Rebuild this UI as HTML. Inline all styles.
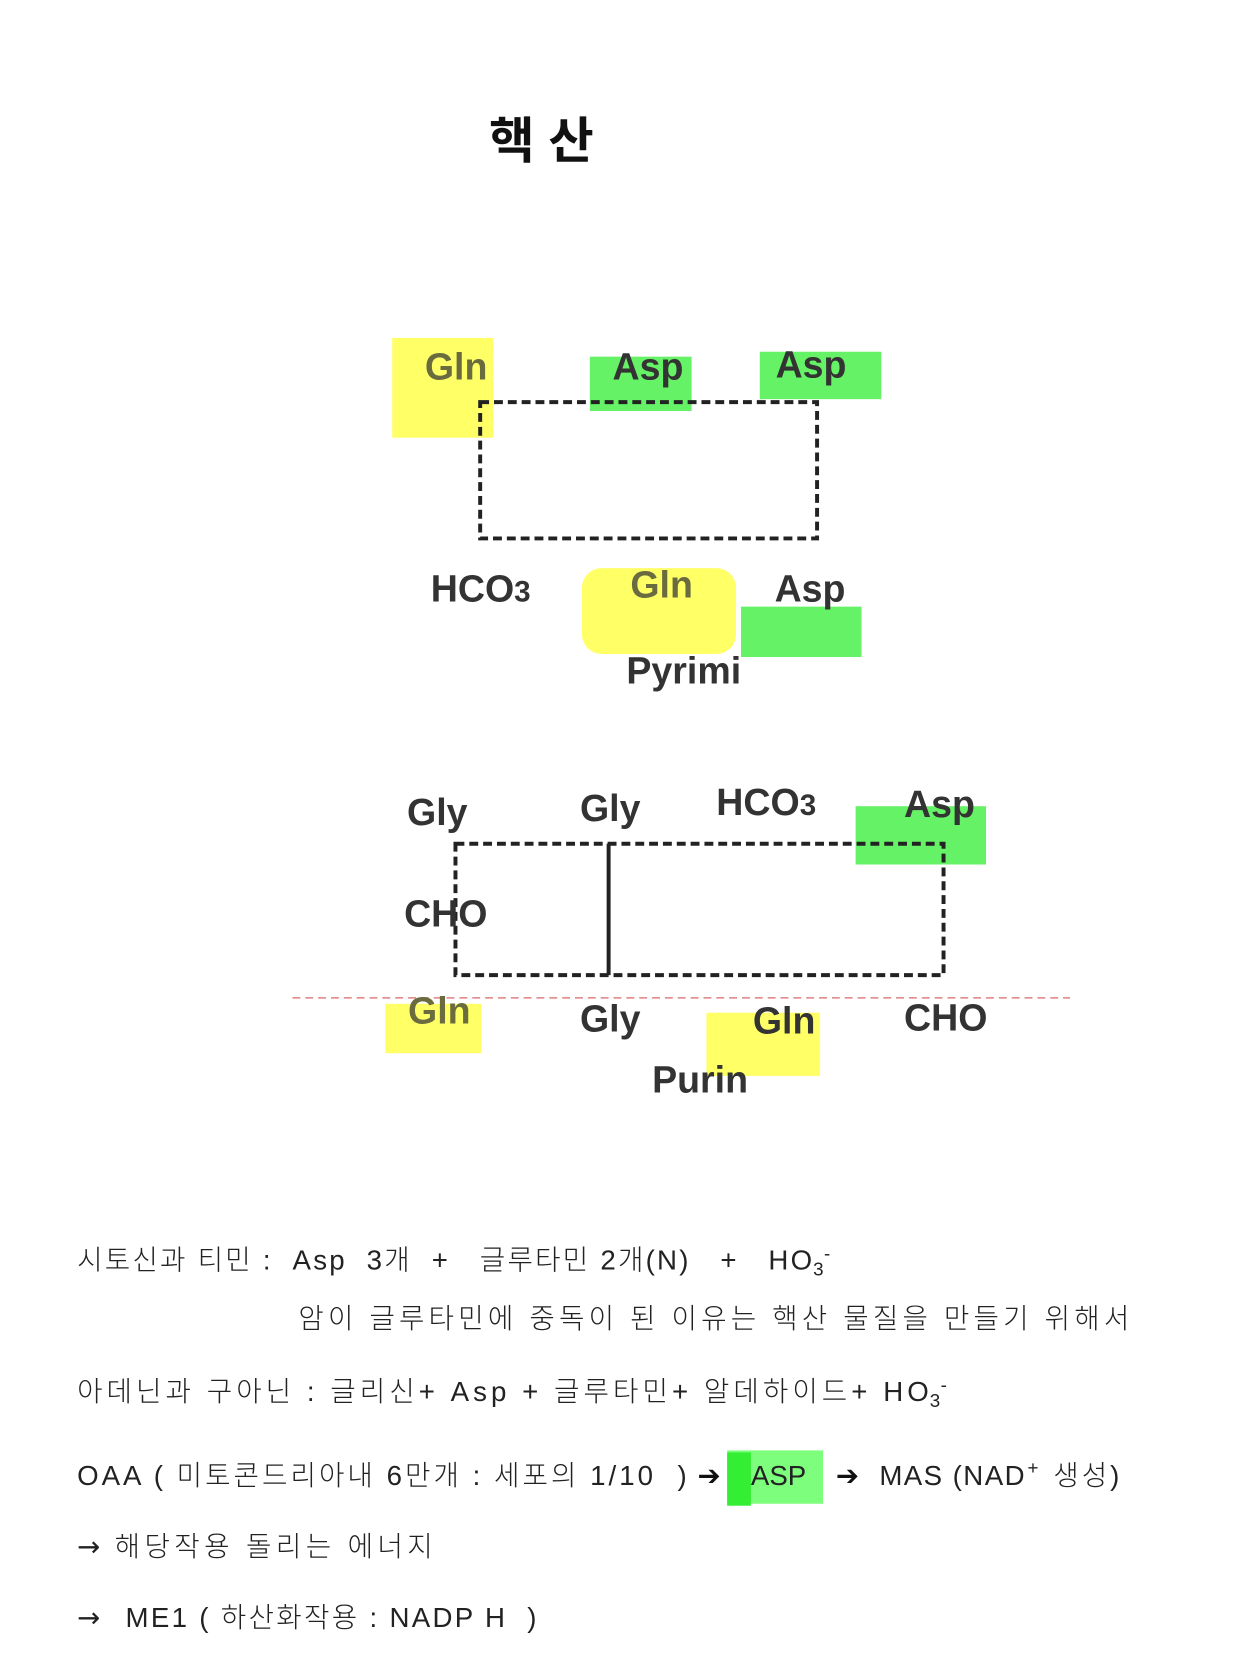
<!DOCTYPE html>
<html><head><meta charset="utf-8"><style>
html,body{margin:0;padding:0;background:#fff;width:1260px;height:1680px;overflow:hidden}
svg{display:block}
.b{font-family:"Liberation Sans","Noto Sans CJK KR",sans-serif;font-weight:bold;font-size:38px;fill:#333}
.g{fill:#6b6b40}
.t{font-family:"Liberation Sans","Noto Sans CJK KR",sans-serif;font-size:28px;fill:#222;font-weight:300}
.s{font-family:"Liberation Sans",sans-serif;font-size:19px;fill:#222}
.a{font-family:"DejaVu Sans",sans-serif;font-size:28px;fill:#222}
</style></head><body>
<svg width="1260" height="1680" xmlns="http://www.w3.org/2000/svg">
<g transform="scale(0.988)">
<text x="548" y="160" text-anchor="middle" font-family="Liberation Sans,Noto Sans CJK KR,sans-serif" font-weight="bold" font-size="50" fill="#111">핵 산</text>
<g opacity="0.75">
<rect x="397" y="342" width="102" height="101" fill="#ffff33"/>
<rect x="597" y="361" width="103" height="55" fill="#33ee33"/>
<rect x="769" y="356" width="123" height="48" fill="#33ee33"/>
<rect x="589" y="575" width="156" height="87" rx="20" fill="#ffff33"/>
<rect x="750" y="614" width="122" height="51" fill="#33ee33"/>
<rect x="866" y="816" width="132" height="59" fill="#33ee33"/>
<rect x="390" y="1016" width="97" height="50" fill="#ffff33"/>
<rect x="715" y="1025" width="115" height="64" fill="#ffff33"/>
</g>
<rect x="486" y="407" width="341" height="138" fill="none" stroke="#222" stroke-width="4" stroke-dasharray="9,5"/>
<text class="b g" x="430" y="384">Gln</text>
<text class="b" x="620" y="384">Asp</text>
<text class="b" x="785" y="382">Asp</text>
<text class="b" x="436" y="609">HCO<tspan font-size="30">3</tspan></text>
<text class="b g" x="638" y="605">Gln</text>
<text class="b" x="784" y="609">Asp</text>
<text class="b" x="634" y="692">Pyrimi</text>
<rect x="461" y="854" width="494" height="133" fill="none" stroke="#222" stroke-width="4" stroke-dasharray="9,5"/>
<line x1="616" y1="854" x2="616" y2="987" stroke="#222" stroke-width="4"/>
<line x1="296" y1="1010" x2="1083" y2="1010" stroke="#e08080" stroke-width="1.5" stroke-dasharray="8,5"/>
<text class="b" x="412" y="835">Gly</text>
<text class="b" x="587" y="831">Gly</text>
<text class="b" x="725" y="825">HCO<tspan font-size="30">3</tspan></text>
<text class="b" x="915" y="827">Asp</text>
<text class="b" x="409" y="938">CHO</text>
<text class="b g" x="413" y="1036">Gln</text>
<text class="b" x="587" y="1044">Gly</text>
<text class="b" x="762" y="1046">Gln</text>
<text class="b" x="915" y="1043">CHO</text>
<text class="b" x="660" y="1106">Purin</text>

<text class="t" x="78" y="1285" textLength="744" xml:space="preserve">시토신과 티민 :  Asp  3개  +   글루타민 2개(N)   +   HO</text>
<text class="s" x="823" y="1291">3</text><text class="s" x="834" y="1275">-</text>
<text class="t" x="302" y="1344" textLength="841">암이 글루타민에 중독이 된 이유는 핵산 물질을 만들기 위해서</text>
<text class="t" x="78" y="1418" textLength="862" xml:space="preserve">아데닌과 구아닌 : 글리신+ Asp + 글루타민+ 알데하이드+ HO</text>
<text class="s" x="941" y="1424">3</text><text class="s" x="952" y="1408">-</text>
<rect x="736" y="1468" width="97" height="54" fill="#66ff66" opacity="0.85"/>
<rect x="736" y="1470" width="24" height="54" fill="#33ee33"/>
<text class="t" x="78" y="1503" textLength="617" xml:space="preserve">OAA ( 미토콘드리아내 6만개 : 세포의 1/10  )</text>
<text x="706" y="1503" font-family="DejaVu Sans,sans-serif" font-size="28" font-weight="bold" fill="#111">➔</text>
<text class="t" x="760" y="1503" textLength="56">ASP</text>
<text x="846" y="1503" font-family="DejaVu Sans,sans-serif" font-size="28" font-weight="bold" fill="#111">➔</text>
<text class="t" x="890" y="1503" textLength="147">MAS (NAD</text>
<text class="s" x="1040" y="1492" font-size="16">+</text>
<text class="t" x="1066" y="1503" textLength="67">생성)</text>
<text class="a" x="78" y="1575">→</text>
<text class="t" x="116" y="1575" textLength="322">해당작용 돌리는 에너지</text>
<text class="a" x="78" y="1647">→</text>
<text class="t" x="127" y="1647" textLength="416" xml:space="preserve">ME1 ( 하산화작용 : NADP H  )</text>
</g>
</svg>
</body></html>
